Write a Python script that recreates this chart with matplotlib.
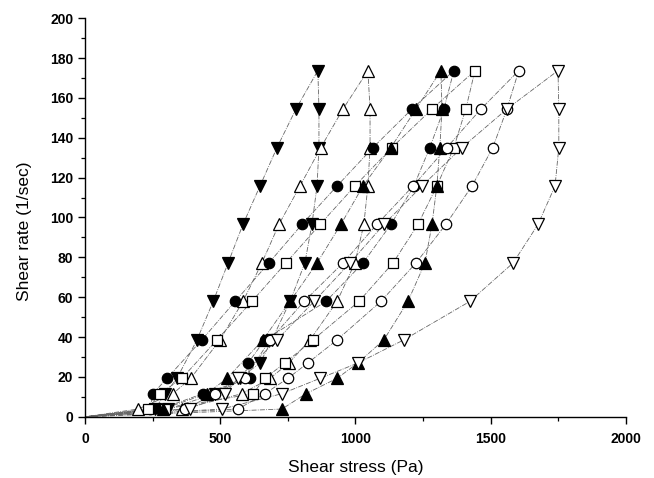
import matplotlib
matplotlib.use("Agg")
import matplotlib.pyplot as plt
from matplotlib.ticker import MultipleLocator

# Shear-rate levels (1/sec)
up_rates = [0, 3.9, 11.6, 19.3, 27.0, 38.6, 57.9, 77.2, 96.5, 115.8, 135.1, 154.4, 173.7]
down_rates = [154.4, 135.1, 115.8, 96.5, 77.2, 57.9, 38.6, 19.3, 11.6, 3.9, 0]

# Shear stress (Pa) for each sample: up curve then down curve
s1_up = [0, 307, 481, 573, 647, 691, 758, 813, 839, 858, 865, 865, 861]
s1_down = [780, 710, 647, 584, 529, 474, 414, 340, 296, 259, 0]

s2_up = [0, 359, 580, 684, 754, 832, 932, 998, 1031, 1046, 1054, 1054, 1046]
s2_down = [954, 872, 795, 717, 654, 584, 499, 391, 325, 196, 0]

s3_up = [0, 277, 436, 610, 603, 665, 891, 1028, 1131, 1216, 1275, 1327, 1364]
s3_down = [1209, 1065, 932, 802, 680, 555, 432, 303, 251, 240, 0]

s4_up = [0, 296, 621, 665, 739, 843, 1013, 1139, 1231, 1301, 1364, 1408, 1442]
s4_down = [1283, 1135, 998, 869, 743, 617, 488, 358, 277, 233, 0]

s5_up = [0, 728, 817, 932, 1009, 1105, 1194, 1257, 1283, 1301, 1312, 1320, 1316]
s5_down = [1224, 1131, 1028, 946, 858, 758, 658, 525, 450, 288, 0]

s6_up = [0, 566, 665, 750, 824, 932, 1094, 1224, 1334, 1431, 1508, 1560, 1604]
s6_down = [1464, 1338, 1213, 1079, 954, 810, 684, 591, 481, 370, 0]

s7_up = [0, 506, 728, 869, 1009, 1179, 1423, 1583, 1675, 1738, 1752, 1752, 1749]
s7_down = [1560, 1394, 1246, 1105, 980, 847, 710, 566, 517, 388, 0]

x_ticks = [0, 500, 1000, 1500, 2000]
y_ticks = [0, 20, 40, 60, 80, 100, 120, 140, 160, 180, 200]

series = [
    (s1_up, s1_down, dict(marker='v', mfc='black', ms=8.5)),
    (s2_up, s2_down, dict(marker='^', mfc='white', ms=8.5)),
    (s3_up, s3_down, dict(marker='o', mfc='black', ms=7.5)),
    (s4_up, s4_down, dict(marker='s', mfc='white', ms=6.5)),
    (s5_up, s5_down, dict(marker='^', mfc='black', ms=8.5)),
    (s6_up, s6_down, dict(marker='o', mfc='white', ms=7.5)),
    (s7_up, s7_down, dict(marker='v', mfc='white', ms=8.5)),
]

plt.rcParams['font.family'] = ['Liberation Sans', 'DejaVu Sans']

fig = plt.figure(figsize=(6.54, 4.78), dpi=100)
ax = fig.add_axes([0.130, 0.128, 0.827, 0.834])

for up, down, st in series:
    xs = up + down
    ys = up_rates + down_rates
    ax.plot(xs, ys, color='#666666', lw=0.6, ls=(0, (6, 1.5, 1, 1.5)), zorder=1)
    px = [x for x, y in zip(xs, ys) if y > 0]
    py = [y for y in ys if y > 0]
    ax.plot(px, py, ls='none', marker=st['marker'], ms=st['ms'],
            mfc=st['mfc'], mec='black', mew=0.9, zorder=3, clip_on=False)

ax.set_xlim(0, 2000)
ax.set_ylim(0, 200)
ax.set_xticks(x_ticks)
ax.set_yticks(y_ticks)
ax.xaxis.set_minor_locator(MultipleLocator(250))
ax.yaxis.set_minor_locator(MultipleLocator(10))
ax.spines['top'].set_visible(False)
ax.spines['right'].set_visible(False)
for sp in ('left', 'bottom'):
    ax.spines[sp].set_linewidth(1.0)
ax.tick_params(which='major', direction='out', length=5, width=1.0, labelsize=10)
ax.tick_params(which='minor', direction='out', length=3, width=0.9)
ax.tick_params(axis='x', pad=6)
for lab in ax.get_xticklabels() + ax.get_yticklabels():
    lab.set_fontweight('bold')

ax.set_xlabel('Shear stress (Pa)', fontsize=12.5, labelpad=10)
ax.set_ylabel('Shear rate (1/sec)', fontsize=12.5, labelpad=13)
ax.yaxis.label.set_y(0.465)

fig.savefig('out.png', dpi=100)
